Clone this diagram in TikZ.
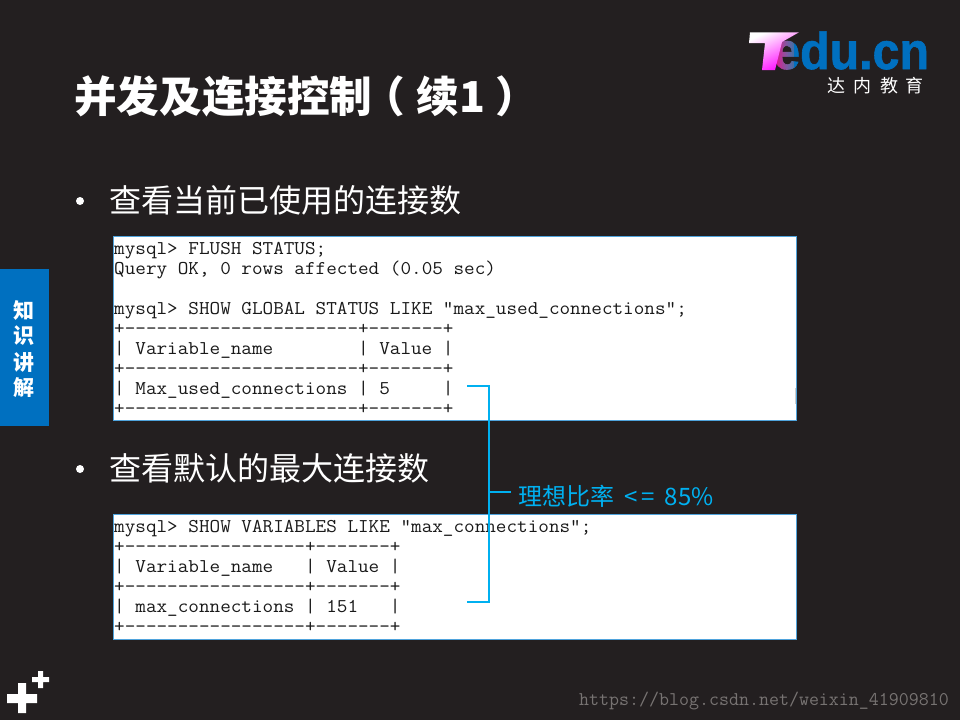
\documentclass[tikz,border=0pt]{standalone}
\usepackage{fontspec}
\newfontfamily\cjk{Noto Sans CJK SC}
\newfontfamily\logofont[BoldFeatures={FakeBold=1.2}]{Liberation Sans}
\definecolor{slidebg}{HTML}{231F20}
\definecolor{tabblue}{HTML}{0070C0}
\definecolor{accent}{HTML}{00B0F0}
\definecolor{panelline}{HTML}{4FA3DC}
\definecolor{wmgray}{HTML}{777372}
\newcommand\dfive{-{}-{}-{}-{}-{}}
\newcommand\dseven{\dfive-{}-{}}
\newcommand\dsvt{\dfive\dfive\dfive-{}-{}}
\newcommand\dtwotwo{\dfive\dfive\dfive\dfive-{}-{}}
\tikzset{
  tline/.style={anchor=base west,inner sep=0pt,text=black!90,font=\ttfamily\fontsize{19.5}{20}\selectfont,xscale=1.056,transform shape},
  bodytext/.style={anchor=west,inner sep=0pt,text=white,font=\cjk\fontsize{32}{36}\selectfont},
  bulletdot/.style={circle,fill=white,inner sep=0pt,minimum size=8pt},
  tabtext/.style={inner sep=0pt,text=white,font=\cjk\bfseries\fontsize{21}{22}\selectfont},
  logocn/.style={inner sep=0pt,text=white,font=\cjk\fontsize{18}{20}\selectfont},
  panel/.style={draw=panelline,line width=1pt,fill=white},
  bracket/.style={draw=accent,line width=2pt},
  logotext/.style={anchor=base west,inner sep=0pt,font=\logofont\bfseries\fontsize{52}{52}\selectfont,xscale=0.93,transform shape}
}
\begin{document}
\begin{tikzpicture}[x=1pt,y=-1pt]
\useasboundingbox (0,0) rectangle (960,720);
\fill[slidebg] (0,0) rectangle (960,720);
% title
\node (title) [anchor=west,inner sep=0pt,text=white,font=\cjk\bfseries\fontsize{42.6}{46}\selectfont] at (74,96) {并发及连接控制\hspace{-10pt}（\hspace{12pt}续1\hspace{10pt}）};
% logo
\foreach \i [evaluate=\i as \m using {100-(\i-774)*5}] in {774,776,...,794}{
  \begin{scope}
    \clip (\i,20) rectangle (\i+2,80);
    \node (le\i) [logotext,text={magenta!\m!tabblue}] at (773,69) {e};
  \end{scope}
}
\begin{scope}
  \clip (796,20) rectangle (960,80);
  \node (logoe) [logotext,text=tabblue] at (773,69) {edu.cn};
\end{scope}
\shade[top color=white,bottom color=magenta,shading angle=25]
  (750,32.3) -- (799,32.3) -- (782,42) -- (775,70) -- (762,70) -- (765,43) -- (749,43) -- cycle;
\node (l1) [logocn] at (836,86) {达};
\node (l2) [logocn] at (862.5,86) {内};
\node (l3) [logocn] at (889,86) {教};
\node (l4) [logocn] at (914.5,86) {育};
% side tab
\fill[tabblue] (0,269) rectangle (49,426);
\node (k1) [tabtext] at (24,310) {知};
\node (k2) [tabtext] at (24,336) {识};
\node (k3) [tabtext] at (24,362) {讲};
\node (k4) [tabtext] at (24,388) {解};
% bullets
\node (b1) [bulletdot] at (80,201) {};
\node (h1) [bodytext] at (109.5,200) {查看当前已使用的连接数};
\node (b2) [bulletdot] at (80,469) {};
\node (h2) [bodytext] at (109.5,468) {查看默认的最大连接数};
% panels
\path[panel] (113.5,236.5) rectangle (796,420);
\path[panel] (113.5,514.5) rectangle (796,639.5);
\fill[gray!40] (794.5,388) rectangle (796,404);
% terminal 1
\node (a1) [tline] at (114,254) {mysql> FLUSH STATUS;};
\node (a2) [tline] at (114,274) {Query OK, 0 rows affected (0.05 sec)};
\node (a3) [tline] at (114,314) {mysql> SHOW GLOBAL STATUS LIKE "max\_used\_connections";};
\node (a4) [tline] at (114,334) {+\dtwotwo+\dseven+};
\node (a5) [tline] at (114,354) {| Variable\_name~~~~~~~~| Value |};
\node (a6) [tline] at (114,374) {+\dtwotwo+\dseven+};
\node (a7) [tline] at (114,394) {| Max\_used\_connections | 5~~~~~|};
\node (a8) [tline] at (114,414) {+\dtwotwo+\dseven+};
% terminal 2
\node (c1) [tline] at (114,532) {mysql> SHOW VARIABLES LIKE "max\_connections";};
\node (c2) [tline] at (114,552) {+\dsvt+\dseven+};
\node (c3) [tline] at (114,572) {| Variable\_name~~~| Value |};
\node (c4) [tline] at (114,592) {+\dsvt+\dseven+};
\node (c5) [tline] at (114,612) {| max\_connections | 151~~~|};
\node (c6) [tline] at (114,632) {+\dsvt+\dseven+};
% bracket
\coordinate (p1) at (467,386);
\coordinate (p2) at (489,386);
\coordinate (p3) at (489,602);
\coordinate (p4) at (467,602);
\coordinate (p5) at (489,492);
\coordinate (p6) at (511,492);
\draw[bracket] (p1) -- (p2) -- (p3) -- (p4);
\draw[bracket,line width=1.5pt] (p5) -- (p6);
\node (ratio) [anchor=west,inner sep=0pt,text=accent,font=\cjk\fontsize{24}{28}\selectfont] at (518,496) {理想比率\hspace{10pt}<\hspace{4pt}=\hspace{10pt}85\%};
% plus icons
\fill[white] (7,694) rectangle (37,703) (18,683) rectangle (26,713);
\fill[white] (32,677) rectangle (49,682) (38,671) rectangle (43,688);
% watermark
\node (wm) [anchor=base west,inner sep=0pt,text=wmgray,font=\ttfamily\fontsize{19.4}{20}\selectfont] at (579,705) {https://blog.csdn.net/weixin\_41909810};
\end{tikzpicture}
\end{document}
